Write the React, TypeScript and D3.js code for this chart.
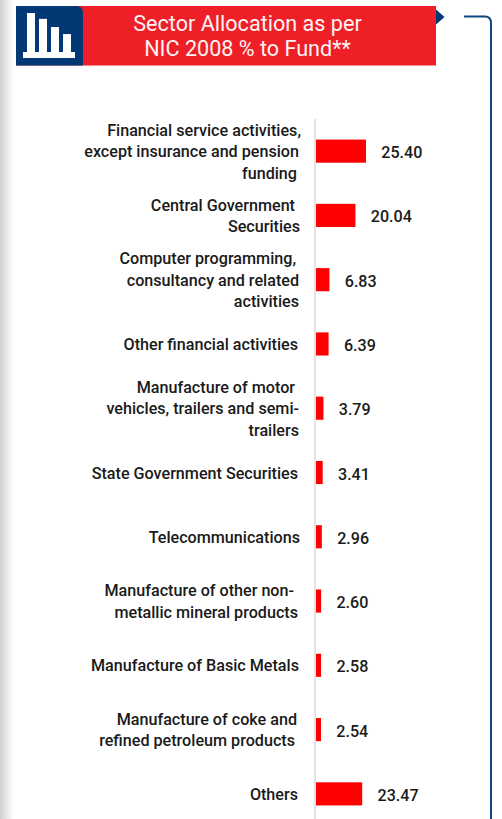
import React from "react";
import * as d3 from "d3";

const categories = [
  "Financial service activities",
  "Central Government Securities",
  "Computer programming",
  "Other financial activities",
  "Manufacture of motor vehicles",
  "State Government Securities",
  "Telecommunications",
  "Manufacture of other non-metallic",
  "Manufacture of Basic Metals",
  "Manufacture of coke",
  "Others",
];
const values = [25.4, 20.04, 6.83, 6.39, 3.79, 3.41, 2.96, 2.6, 2.58, 2.54, 23.47];
const valueLabels = ["25.40", "20.04", "6.83", "6.39", "3.79", "3.41", "2.96", "2.60", "2.58", "2.54", "23.47"];
const labelLines = [
  ["Financial service activities,", "except insurance and pension", "funding"],
  ["Central Government", "Securities"],
  ["Computer programming,", "consultancy and related", "activities"],
  ["Other financial activities"],
  ["Manufacture of motor", "vehicles, trailers and semi-", "trailers"],
  ["State Government Securities"],
  ["Telecommunications"],
  ["Manufacture of other non-", "metallic mineral products"],
  ["Manufacture of Basic Metals"],
  ["Manufacture of coke and", "refined petroleum products"],
  ["Others"],
];
const lineRight = [
  [301, 299, 297],
  [295, 300],
  [296, 299, 299],
  [298],
  [295, 299, 299],
  [298],
  [300],
  [294, 298],
  [299],
  [297, 295],
  [298],
];
const titleLines = ["Sector Allocation as per", "NIC 2008 % to Fund**"];
const iconBars = [1, 0.85, 0.64, 0.46];

const WIDTH = 502;
const HEIGHT = 819;
const FONT = "Roboto, sans-serif";

export default function App() {
  const x = d3.scaleLinear().domain([0, 25.4]).range([316, 366]);
  const y = d3.scaleBand<number>().domain(d3.range(values.length)).range([119, 826]).paddingInner(0.64).paddingOuter(0.32);
  const iconY = d3.scaleLinear().domain([0, 1]).range([52, 13]);
  const iconX = d3.scaleBand<number>().domain(d3.range(iconBars.length)).range([27, 71]).paddingInner(1 / 3);
  const lineH = 21.5;
  return (
    <svg
      width={WIDTH}
      height={HEIGHT}
      viewBox={`0 0 ${WIDTH} ${HEIGHT}`}
      style={{ position: "fixed", left: 0, top: 0, background: "#fff" }}
    >
      <defs>
        <linearGradient id="side" x1="0" x2="1" y1="0" y2="0">
          <stop offset="0" stopColor="#cfd2d4" />
          <stop offset="0.5" stopColor="#e8e9ea" />
          <stop offset="1" stopColor="#ffffff" />
        </linearGradient>
      </defs>
      <rect x={0} y={0} width={14} height={HEIGHT} fill="url(#side)" />

      {/* banner */}
      <rect x={16} y={6} width={420} height={59.5} fill="#ee1f27" />
      <path d="M16 6H76Q83 6 83 13V65.5H16Z" fill="#023873" />
      <path d="M436 9.5L444.5 17L436 24.5Z" fill="#023873" />
      {iconBars.map((d, i) => (
        <rect
          key={i}
          x={iconX(i)}
          y={iconY(d)}
          width={iconX.bandwidth()}
          height={52 - iconY(d)}
          fill="#fff"
        />
      ))}
      <rect x={23} y={52} width={52} height={6} fill="#fff" />
      {titleLines.map((t, i) => (
        <text key={i} x={247.5} y={31 + i * 25} textAnchor="middle" fontFamily={FONT} fontSize={21.6} fill="#fdf3f3">
          {t}
        </text>
      ))}

      {/* bracket */}
      <path d="M464 16.5H485Q491 16.5 491 23V819" fill="none" stroke="#0f4580" strokeWidth={2} />

      {/* axis */}
      <line x1={315} x2={315} y1={119} y2={HEIGHT} stroke="#d9d9d9" strokeWidth={1.5} />

      {values.map((v, i) => {
        const cy = y(i)! + y.bandwidth() / 2;
        const lines = labelLines[i];
        const top = cy - ((lines.length - 1) * lineH) / 2;
        return (
          <g key={categories[i]}>
            <rect x={x(0)} y={y(i)} width={x(v) - x(0)} height={y.bandwidth()} fill="#ff0000" />
            <text x={x(v) + 15.3} y={cy + 7} fontFamily={FONT} fontWeight={500} fontSize={16.1} fill="#1a1a1a">
              {valueLabels[i]}
            </text>
            {lines.map((l, j) => (
              <text
                key={j}
                x={lineRight[i][j]}
                y={top + j * lineH + 6}
                textAnchor="end"
                fontFamily={FONT}
                fontWeight={500}
                fontSize={16.15}
                fill="#1a1a1a"
              >
                {l}
              </text>
            ))}
          </g>
        );
      })}
    </svg>
  );
}
